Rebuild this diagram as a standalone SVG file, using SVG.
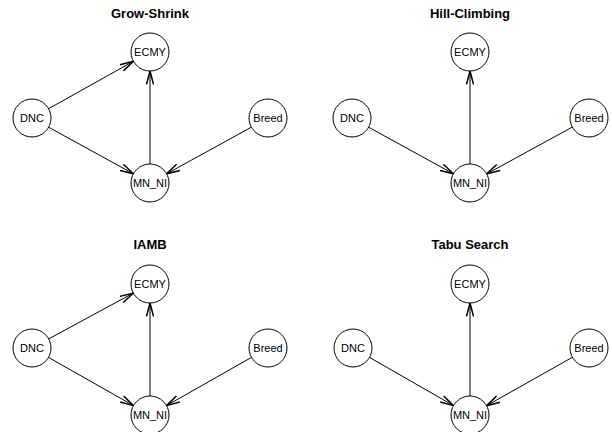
<svg xmlns="http://www.w3.org/2000/svg" width="612" height="432" viewBox="0 0 612 432">
<style>
.node circle{fill:#fff;stroke:#000;stroke-width:1}
.node text{font-family:"Liberation Sans",Arial,sans-serif;font-size:11px;text-anchor:middle;dominant-baseline:central;fill:#000}
.title{font-family:"Liberation Sans",Arial,sans-serif;font-size:13px;font-weight:bold;text-anchor:middle;fill:#000}
.edges line{stroke:#000;stroke-width:1;marker-end:url(#arr)}
</style>
<defs>
<marker id="arr" markerUnits="userSpaceOnUse" markerWidth="20" markerHeight="20" viewBox="-10 -5 12 10" refX="0" refY="0" orient="auto">
<path d="M-8,-2.1 L0,0 L-8,2.1" fill="none" stroke="#000" stroke-width="0.9"/>
</marker>
</defs>
<rect width="612" height="432" fill="#fff"/>
<text class="title" x="150" y="18">Grow-Shrink</text>
<text class="title" x="470" y="18">Hill-Climbing</text>
<text class="title" x="150" y="249">IAMB</text>
<text class="title" x="470" y="249">Tabu Search</text>
<g id="edges" class="edges">
<line x1="48.6" y1="108.7" x2="133.4" y2="61.3"/>
<line x1="48.6" y1="127.2" x2="133.4" y2="173.8"/>
<line x1="150" y1="164" x2="150" y2="71"/>
<line x1="251.4" y1="127.2" x2="166.6" y2="173.8"/>
<line x1="368.6" y1="127.2" x2="453.4" y2="173.8"/>
<line x1="470" y1="164" x2="470" y2="71"/>
<line x1="572.3" y1="127.1" x2="486.7" y2="173.9"/>
<line x1="48.7" y1="338.9" x2="133.3" y2="293.1"/>
<line x1="48.5" y1="357.4" x2="133.5" y2="405.6"/>
<line x1="150" y1="396" x2="150" y2="303"/>
<line x1="251.5" y1="357.4" x2="166.5" y2="405.6"/>
<line x1="369.5" y1="357.4" x2="453.5" y2="405.6"/>
<line x1="470" y1="396" x2="470" y2="303"/>
<line x1="572.4" y1="357.3" x2="486.6" y2="405.7"/>
</g>
<g id="gs-ECMY" class="node"><circle cx="150" cy="52" r="19"/><text x="150" y="52">ECMY</text></g>
<g id="gs-DNC" class="node"><circle cx="32" cy="118" r="19"/><text x="32" y="118">DNC</text></g>
<g id="gs-Breed" class="node"><circle cx="268" cy="118" r="19"/><text x="268" y="118">Breed</text></g>
<g id="gs-MN_NI" class="node"><circle cx="150" cy="183" r="19"/><text x="150" y="183">MN_NI</text></g>
<g id="hc-ECMY" class="node"><circle cx="470" cy="52" r="19"/><text x="470" y="52">ECMY</text></g>
<g id="hc-DNC" class="node"><circle cx="352" cy="118" r="19"/><text x="352" y="118">DNC</text></g>
<g id="hc-Breed" class="node"><circle cx="589" cy="118" r="19"/><text x="589" y="118">Breed</text></g>
<g id="hc-MN_NI" class="node"><circle cx="470" cy="183" r="19"/><text x="470" y="183">MN_NI</text></g>
<g id="iamb-ECMY" class="node"><circle cx="150" cy="284" r="19"/><text x="150" y="284">ECMY</text></g>
<g id="iamb-DNC" class="node"><circle cx="32" cy="348" r="19"/><text x="32" y="348">DNC</text></g>
<g id="iamb-Breed" class="node"><circle cx="268" cy="348" r="19"/><text x="268" y="348">Breed</text></g>
<g id="iamb-MN_NI" class="node"><circle cx="150" cy="415" r="19"/><text x="150" y="415">MN_NI</text></g>
<g id="tabu-ECMY" class="node"><circle cx="470" cy="284" r="19"/><text x="470" y="284">ECMY</text></g>
<g id="tabu-DNC" class="node"><circle cx="353" cy="348" r="19"/><text x="353" y="348">DNC</text></g>
<g id="tabu-Breed" class="node"><circle cx="589" cy="348" r="19"/><text x="589" y="348">Breed</text></g>
<g id="tabu-MN_NI" class="node"><circle cx="470" cy="415" r="19"/><text x="470" y="415">MN_NI</text></g>
</svg>
